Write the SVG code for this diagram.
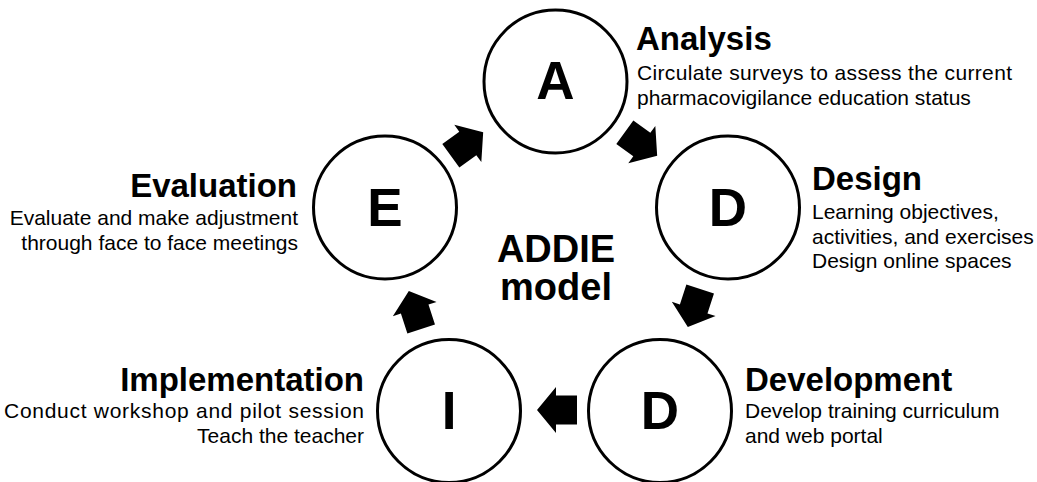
<svg xmlns="http://www.w3.org/2000/svg" width="1037" height="482" viewBox="0 0 1037 482">
<style>
.c{fill:#fff;stroke:#000;stroke-width:3}
.l{font-family:"Liberation Sans",Arial,sans-serif;font-weight:bold;font-size:53px;text-anchor:middle;fill:#000}
.t{font-family:"Liberation Sans",Arial,sans-serif;font-weight:bold;font-size:33px;fill:#000}
.s{font-family:"Liberation Sans",Arial,sans-serif;font-size:21px;fill:#000}
.r{text-anchor:end}
.m{font-family:"Liberation Sans",Arial,sans-serif;font-weight:bold;font-size:38px;text-anchor:middle;fill:#000}
</style>
<defs>
<path id="arr" d="M20,0 L1,-23 L1,-14.5 L-20,-14.5 L-20,14.5 L1,14.5 L1,23 Z" fill="#000"/>
</defs>
<rect width="1037" height="482" fill="#fff"/>
<g id="connectors">
<use href="#arr" transform="translate(641,144) rotate(36)"/>
<use href="#arr" transform="translate(694,308) rotate(108)"/>
<use href="#arr" transform="translate(557,410) rotate(180)"/>
<use href="#arr" transform="translate(415,310) rotate(252)"/>
<use href="#arr" transform="translate(467,144) rotate(324)"/>
</g>
<g id="node-analysis">
<circle class="c" cx="555.5" cy="81.5" r="71.5"/>
<text class="l" x="555.5" y="99">A</text>
<text class="t" x="636" y="50">Analysis</text>
<text class="s" x="637" y="80" textLength="375">Circulate surveys to assess the current</text>
<text class="s" x="637" y="105">pharmacovigilance education status</text>
</g>
<g id="node-design">
<circle class="c" cx="728" cy="207.5" r="71.5"/>
<text class="l" x="728" y="226">D</text>
<text class="t" x="812" y="190">Design</text>
<text class="s" x="812" y="219">Learning objectives,</text>
<text class="s" x="812" y="244">activities, and exercises</text>
<text class="s" x="812" y="268">Design online spaces</text>
</g>
<g id="node-development">
<circle class="c" cx="660" cy="411" r="71.5"/>
<text class="l" x="660" y="429">D</text>
<text class="t" x="745" y="391">Development</text>
<text class="s" x="745" y="418">Develop training curriculum</text>
<text class="s" x="745" y="443">and web portal</text>
</g>
<g id="node-implementation">
<circle class="c" cx="449" cy="411" r="71.5"/>
<text class="l" x="449" y="429">I</text>
<text class="t r" x="364" y="391">Implementation</text>
<text class="s r" x="364" y="418" textLength="360">Conduct workshop and pilot session</text>
<text class="s r" x="364" y="443">Teach the teacher</text>
</g>
<g id="node-evaluation">
<circle class="c" cx="385" cy="207.5" r="71.5"/>
<text class="l" x="385" y="226">E</text>
<text class="t r" x="297" y="197">Evaluation</text>
<text class="s r" x="298" y="225">Evaluate and make adjustment</text>
<text class="s r" x="298" y="250">through face to face meetings</text>
</g>
<g id="center-label">
<text class="m" x="556" y="262">ADDIE</text>
<text class="m" x="556" y="300">model</text>
</g>
</svg>
